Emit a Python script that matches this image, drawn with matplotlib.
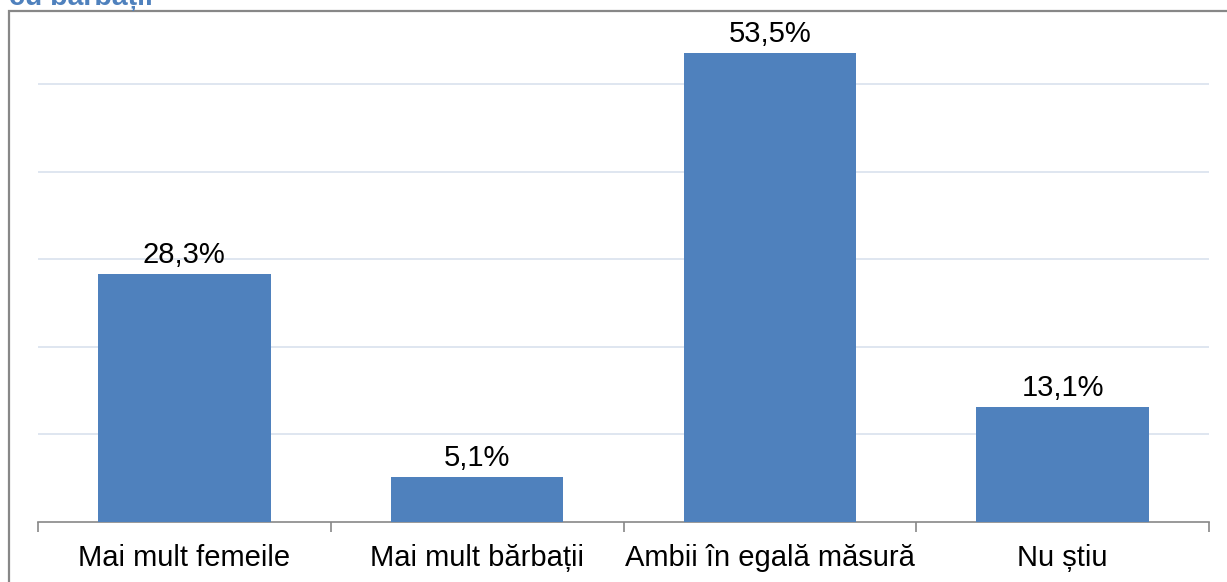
import matplotlib.pyplot as plt
from matplotlib.patches import Rectangle

plt.rcParams['font.family'] = ['Liberation Sans', 'DejaVu Sans']

# data
categories = ['Mai mult femeile', 'Mai mult bărbații', 'Ambii în egală măsură', 'Nu știu']
values = [28.3, 5.1, 53.5, 13.1]
value_labels = ['28,3%', '5,1%', '53,5%', '13,1%']
title_part = 'cu bărbații'

W, H = 1227, 582
fig = plt.figure(figsize=(W / 100, H / 100), dpi=100)

# outer chart frame (cut off at right/bottom)
fig.patches.append(Rectangle((8.5 / W, -0.1), 1.2, (H - 11) / H + 0.1,
                             transform=fig.transFigure, fill=False,
                             edgecolor='#878787', linewidth=1.6))
# cut-off title above the frame
fig.text(9 / W, 1 - 5 / H, title_part, color='#4F81BD', fontsize=20.5,
         fontweight='bold', va='baseline', ha='left')

ax = fig.add_axes([38 / W, 60 / H, (1209 - 38) / W, (522 - 20) / H])
x = range(len(categories))
ax.bar(x, values, width=0.59, color='#4F81BD', zorder=3)

for i, v in enumerate(values):
    ax.annotate(value_labels[i], (i, v), xytext=(0, 4), textcoords='offset points',
                ha='center', va='bottom', fontsize=21, color='black')

ax.set_xlim(-0.5, len(categories) - 0.5)
ax.set_ylim(0, (522 - 20) / 8.76)
ax.set_yticks([10, 20, 30, 40, 50])
ax.yaxis.grid(True, color='#DCE4EF', linewidth=1.3, zorder=0)
ax.tick_params(axis='y', left=False, labelleft=False)

ax.set_xticks(list(x))
ax.set_xticklabels(categories, fontsize=21)
ax.set_xticks([i - 0.5 for i in range(len(categories) + 1)], minor=True)
ax.tick_params(axis='x', which='major', length=0, pad=16)
ax.tick_params(axis='x', which='minor', length=7, width=1.2, color='#878787')

for s in ['top', 'right', 'left']:
    ax.spines[s].set_visible(False)
ax.spines['bottom'].set_color('#878787')
ax.spines['bottom'].set_linewidth(1.2)

fig.savefig('out.png', dpi=100)
